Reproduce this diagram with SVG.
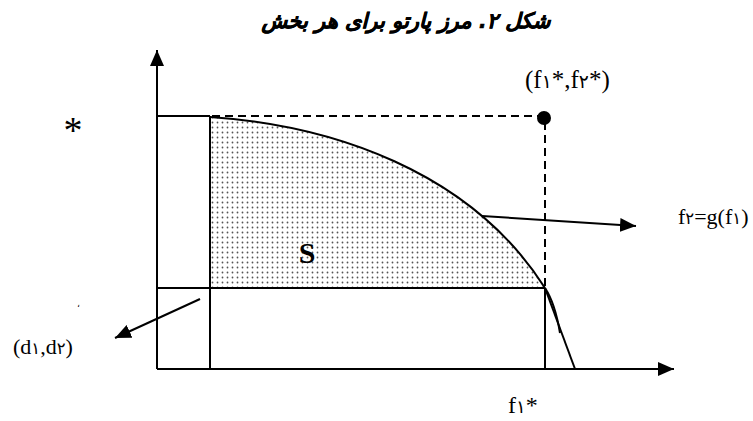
<svg xmlns="http://www.w3.org/2000/svg" width="753" height="421" viewBox="0 0 753 421">
<style>
.ln{stroke:#000;stroke-width:2;fill:none}
.dash{stroke:#000;stroke-width:2;fill:none;stroke-dasharray:8,5}
.lat{font-family:"Liberation Serif","Times New Roman",serif;fill:#000}
.dg{font-family:"DejaVu Sans",sans-serif;font-size:0.75em}
.title{font-family:"DejaVu Sans",sans-serif;font-weight:bold;font-style:italic;font-size:21px;fill:#000;stroke:#000;stroke-width:0.5}
</style>
<defs>
<pattern id="dots" width="5" height="5" patternUnits="userSpaceOnUse">
<rect width="5" height="5" fill="#fff"/>
<circle cx="2.5" cy="2.5" r="0.9" fill="#555"/>
</pattern>
<marker id="ah" viewBox="0 0 16 14" refX="16" refY="7" markerWidth="16" markerHeight="14" markerUnits="userSpaceOnUse" orient="auto">
<path d="M0,0 L16,7 L0,14 Z" fill="#000"/>
</marker>
</defs>
<text class="title" x="406" y="28" text-anchor="middle" direction="rtl">شکل ۲. مرز پارتو برای هر بخش</text>
<g id="region-S">
<path d="M210,117 C330,125 470,170 545,288 L210,288 Z" fill="url(#dots)" stroke="none"/>
<text class="lat" x="307" y="263" style="font-size:30px;font-weight:bold" text-anchor="middle">S</text>
</g>
<g id="axes">
<line class="ln" x1="157" y1="369" x2="157" y2="50" marker-end="url(#ah)"/>
<line class="ln" x1="157" y1="369" x2="674" y2="369" marker-end="url(#ah)"/>
</g>
<g id="frame">
<line class="ln" x1="157" y1="116" x2="210" y2="116"/>
<line class="ln" x1="210" y1="116" x2="210" y2="369"/>
<line class="ln" x1="157" y1="288" x2="545" y2="288"/>
<line class="ln" x1="545" y1="288" x2="545" y2="369"/>
<line class="dash" x1="212" y1="116" x2="540" y2="116"/>
<line class="dash" x1="545" y1="122" x2="545" y2="288"/>
</g>
<g id="pareto-curve">
<path class="ln" d="M210,117 C330,125 470,170 545,288"/>
<path class="ln" stroke-width="1.5" d="M545,288 Q555,303 560,333"/>
<line class="ln" x1="545" y1="288" x2="575" y2="369"/>
</g>
<g id="ideal-point">
<circle cx="544" cy="118" r="7" fill="#000"/>
<text class="lat" x="525" y="88" style="font-size:25px">(f<tspan class="dg">۱</tspan>*,f<tspan class="dg">۲</tspan>*)</text>
</g>
<g id="connectors">
<line class="ln" x1="482" y1="216" x2="636" y2="226" marker-end="url(#ah)"/>
<line class="ln" x1="200" y1="299" x2="115" y2="338" marker-end="url(#ah)"/>
</g>
<g id="labels">
<text class="lat" x="678" y="224" style="font-size:22px">f<tspan class="dg">۲</tspan>=g(f<tspan class="dg">۱</tspan>)</text>
<text class="lat" x="13" y="354" style="font-size:22px">(d<tspan class="dg">۱</tspan>,d<tspan class="dg">۲</tspan>)</text>
<text class="lat" x="508" y="413" style="font-size:24px">f<tspan class="dg">۱</tspan>*</text>
<text class="lat" x="73" y="143" style="font-size:38px" text-anchor="middle">*</text>
<text class="lat" x="78" y="307" style="font-size:9px" text-anchor="middle">،</text>
</g>
</svg>
